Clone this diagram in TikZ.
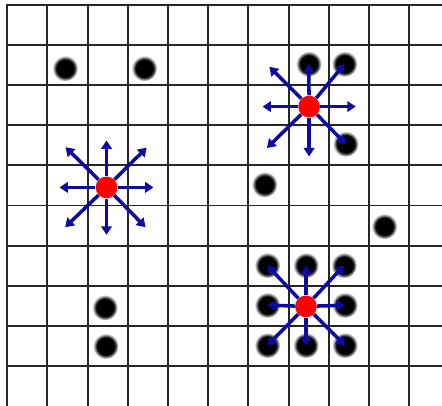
\documentclass[tikz,border=0pt]{standalone}
\usepackage{tikz}
\usetikzlibrary{arrows.meta}

\pgfdeclareradialshading{blurdot}{\pgfpoint{0bp}{0bp}}{color(0bp)=(black); color(17bp)=(black); color(25bp)=(white); color(50bp)=(white)}
\definecolor{rayblue}{RGB}{12,12,165}

\begin{document}
\begin{tikzpicture}[
  gridline/.style={draw=black!85, line width=1.4pt},
  dot/.style={circle, inner sep=0pt, minimum size=0.64cm, shading=blurdot},
  hub/.style={circle, inner sep=0pt, minimum size=0.54cm, fill=red},
  ray/.style={draw=rayblue, line width=2.5pt, -{Triangle[length=6pt, width=7.5pt]}}
]
  \useasboundingbox (-0.18,-0.963) rectangle (10.815,9.112);
  \draw[gridline] (0,-0.99) grid (10.9,9);

  % black points
  \node[dot] (d1)  at (1.44,7.41) {};
  \node[dot] (d2)  at (3.41,7.41) {};
  \node[dot] (d3)  at (7.50,7.52) {};
  \node[dot] (d4)  at (8.39,7.52) {};
  \node[dot] (d5)  at (8.42,5.53) {};
  \node[dot] (d6)  at (6.40,4.52) {};
  \node[dot] (d7)  at (9.38,3.48) {};
  \node[dot] (d8)  at (2.43,1.46) {};
  \node[dot] (d9)  at (2.45,0.50) {};
  \node[dot] (d10) at (6.47,2.51) {};
  \node[dot] (d11) at (7.43,2.51) {};
  \node[dot] (d12) at (8.38,2.51) {};
  \node[dot] (d13) at (6.47,1.52) {};
  \node[dot] (d14) at (8.40,1.52) {};
  \node[dot] (d15) at (6.47,0.52) {};
  \node[dot] (d16) at (7.43,0.52) {};
  \node[dot] (d17) at (8.40,0.52) {};

  % red centres
  \node[hub] (h1) at (2.47,4.45) {};
  \node[hub] (h2) at (7.51,6.46) {};
  \node[hub] (h3) at (7.43,1.49) {};

  % free arrow ends
  \coordinate (t1) at (2.47,5.62);
  \coordinate (t2) at (3.47,5.44);
  \coordinate (t3) at (3.64,4.45);
  \coordinate (t4) at (3.44,3.46);
  \coordinate (t5) at (2.47,3.27);
  \coordinate (t6) at (1.44,3.46);
  \coordinate (t7) at (1.30,4.45);
  \coordinate (t8) at (1.45,5.45);
  \coordinate (u1) at (6.52,7.45);
  \coordinate (u2) at (6.35,6.46);
  \coordinate (u3) at (8.67,6.46);
  \coordinate (u4) at (6.46,5.43);
  \coordinate (u5) at (7.51,5.22);

  \draw[ray] (h1) -- (t1);
  \draw[ray] (h1) -- (t2);
  \draw[ray] (h1) -- (t3);
  \draw[ray] (h1) -- (t4);
  \draw[ray] (h1) -- (t5);
  \draw[ray] (h1) -- (t6);
  \draw[ray] (h1) -- (t7);
  \draw[ray] (h1) -- (t8);

  \draw[ray] (h2) -- (d3.center);
  \draw[ray] (h2) -- (d4.center);
  \draw[ray] (h2) -- (u3);
  \draw[ray] (h2) -- (d5.center);
  \draw[ray] (h2) -- (u5);
  \draw[ray] (h2) -- (u4);
  \draw[ray] (h2) -- (u2);
  \draw[ray] (h2) -- (u1);

  \draw[ray] (h3) -- (d10.center);
  \draw[ray] (h3) -- (d11.center);
  \draw[ray] (h3) -- (d12.center);
  \draw[ray] (h3) -- (d13.center);
  \draw[ray] (h3) -- (d14.center);
  \draw[ray] (h3) -- (d15.center);
  \draw[ray] (h3) -- (d16.center);
  \draw[ray] (h3) -- (d17.center);
\end{tikzpicture}
\end{document}
